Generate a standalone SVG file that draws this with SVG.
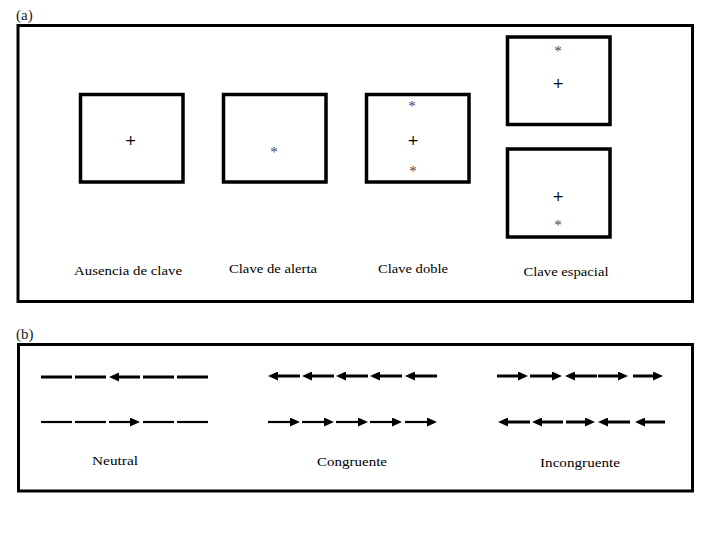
<svg xmlns="http://www.w3.org/2000/svg" width="720" height="540" viewBox="0 0 720 540">
<defs>
<style>
.frame{fill:none;stroke:#000;stroke-width:3}
.box{fill:#fff;stroke:#000;stroke-width:3.5}
.lbl{font-family:"Liberation Serif","DejaVu Serif",serif;font-size:13px;fill:#000;text-anchor:middle}
.pl{font-family:"Liberation Serif","DejaVu Serif",serif;font-size:15px;fill:#222}
.sym{font-family:"DejaVu Sans","Liberation Sans",sans-serif;font-size:14px;fill:#000;text-anchor:middle}
.ast{font-family:"Liberation Serif",serif;font-size:15px;fill:#444;text-anchor:middle}
.f1{stroke:#000;stroke-width:3;fill:none}
.f2{stroke:#000;stroke-width:2.2;fill:none}
</style>
<marker id="ah" viewBox="0 0 10 9" markerWidth="10" markerHeight="9" refX="2" refY="4.5" orient="auto" markerUnits="userSpaceOnUse">
<path d="M0,0 L10,4.5 L0,9 z" fill="#000"/>
</marker>
</defs>
<rect width="720" height="540" fill="#fff"/>

<g id="panel-a">
<text class="pl" x="16" y="20">(a)</text>
<rect class="frame" x="18" y="25.5" width="674.5" height="276"/>
</g>

<g id="ausencia">
<rect class="box" x="80.5" y="94.5" width="102.5" height="87.5"/>
<text class="sym" x="130.5" y="145">+</text>
<text class="lbl" x="128" y="275" textLength="108" lengthAdjust="spacingAndGlyphs">Ausencia de clave</text>
</g>

<g id="alerta">
<rect class="box" x="223.5" y="94.5" width="102.5" height="87.5"/>
<text class="ast" x="274" y="157">*</text>
<text class="lbl" x="273" y="273" textLength="88" lengthAdjust="spacingAndGlyphs">Clave de alerta</text>
</g>

<g id="doble">
<rect class="box" x="366.5" y="94.5" width="102.5" height="87.5"/>
<text class="ast" x="412" y="111">*</text>
<text class="sym" x="413" y="145">+</text>
<text class="ast" x="413" y="176">*</text>
<text class="lbl" x="413" y="273" textLength="70" lengthAdjust="spacingAndGlyphs">Clave doble</text>
</g>

<g id="espacial">
<rect class="box" x="507.5" y="37" width="102.5" height="87.5"/>
<text class="ast" x="558" y="56">*</text>
<text class="sym" x="558" y="88">+</text>
<rect class="box" x="507.5" y="149" width="102.5" height="88"/>
<text class="sym" x="558" y="201">+</text>
<text class="ast" x="558" y="230">*</text>
<text class="lbl" x="566" y="276" textLength="85" lengthAdjust="spacingAndGlyphs">Clave espacial</text>
</g>

<g id="panel-b">
<text class="pl" x="16" y="339">(b)</text>
<rect class="frame" x="18.5" y="344.5" width="674" height="146.5"/>
</g>

<g id="neutral">
<line class="f1" x1="41" y1="377" x2="72" y2="377"/>
<line class="f1" x1="75" y1="377" x2="106" y2="377"/>
<line class="f1" x1="140" y1="377" x2="117" y2="377" marker-end="url(#ah)"/>
<line class="f1" x1="143" y1="377" x2="174" y2="377"/>
<line class="f1" x1="177" y1="377" x2="208" y2="377"/>
<line class="f2" x1="41" y1="422" x2="72" y2="422"/>
<line class="f2" x1="75" y1="422" x2="106" y2="422"/>
<line class="f2" x1="109" y1="422" x2="132" y2="422" marker-end="url(#ah)"/>
<line class="f2" x1="143" y1="422" x2="174" y2="422"/>
<line class="f2" x1="177" y1="422" x2="208" y2="422"/>
<text class="lbl" x="115" y="465" textLength="46" lengthAdjust="spacingAndGlyphs">Neutral</text>
</g>

<g id="congruente">
<line class="f1" x1="300" y1="376" x2="276" y2="376" marker-end="url(#ah)"/>
<line class="f1" x1="334" y1="376" x2="310" y2="376" marker-end="url(#ah)"/>
<line class="f1" x1="368" y1="376" x2="344" y2="376" marker-end="url(#ah)"/>
<line class="f1" x1="402" y1="376" x2="378" y2="376" marker-end="url(#ah)"/>
<line class="f1" x1="437" y1="376" x2="413" y2="376" marker-end="url(#ah)"/>
<line class="f2" x1="268" y1="422" x2="292" y2="422" marker-end="url(#ah)"/>
<line class="f2" x1="302" y1="422" x2="326" y2="422" marker-end="url(#ah)"/>
<line class="f2" x1="336" y1="422" x2="360" y2="422" marker-end="url(#ah)"/>
<line class="f2" x1="370" y1="422" x2="394" y2="422" marker-end="url(#ah)"/>
<line class="f2" x1="405" y1="422" x2="429" y2="422" marker-end="url(#ah)"/>
<text class="lbl" x="352" y="466" textLength="70" lengthAdjust="spacingAndGlyphs">Congruente</text>
</g>

<g id="incongruente">
<line class="f1" x1="497" y1="376" x2="520" y2="376" marker-end="url(#ah)"/>
<line class="f1" x1="530" y1="376" x2="554" y2="376" marker-end="url(#ah)"/>
<line class="f1" x1="597" y1="376" x2="573" y2="376" marker-end="url(#ah)"/>
<line class="f1" x1="598" y1="376" x2="620" y2="376" marker-end="url(#ah)"/>
<line class="f1" x1="633" y1="376" x2="655" y2="376" marker-end="url(#ah)"/>
<line class="f1" x1="530" y1="422" x2="506" y2="422" marker-end="url(#ah)"/>
<line class="f1" x1="563" y1="422" x2="540" y2="422" marker-end="url(#ah)"/>
<line class="f1" x1="566" y1="422" x2="587" y2="422" marker-end="url(#ah)"/>
<line class="f1" x1="630" y1="422" x2="606" y2="422" marker-end="url(#ah)"/>
<line class="f1" x1="665" y1="422" x2="643" y2="422" marker-end="url(#ah)"/>
<text class="lbl" x="580" y="467" textLength="80" lengthAdjust="spacingAndGlyphs">Incongruente</text>
</g>
</svg>
